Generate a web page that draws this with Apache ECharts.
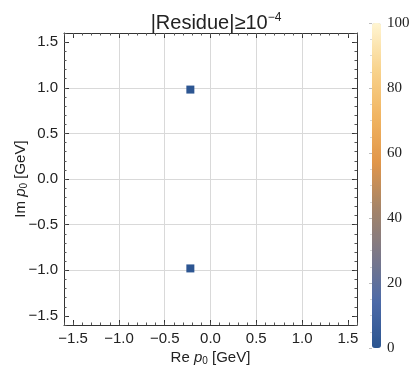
<!DOCTYPE html>
<html>
<head>
<meta charset="utf-8">
<script src="https://cdn.jsdelivr.net/npm/echarts@6/dist/echarts.min.js"></script>
<style>
  html, body { margin: 0; padding: 0; background: #fff; }
  #main { width: 413px; height: 371px; }
</style>
</head>
<body>
<div id="main"></div>
<script>
// residue points (Re p0, Im p0, |residue|)
var rePoints = [-0.22, -0.22];
var imPoints = [0.98, -0.98];
var residues = [1, 1];

var axisRange = [-1.6, 1.6];
var barTicks = [0, 20, 40, 60, 80, 100];
var barColors = ['#2b5590', '#4d6aa8', '#7b7888', '#a48468', '#e1964a', '#f1b562', '#f8d38d', '#fff5d2'];

var points = rePoints.map(function (x, i) { return [x, imPoints[i], residues[i]]; });

var myChart = echarts.init(document.getElementById('main'));
var font = 'Liberation Sans';
var gridLine = '#d9d9d9';
// gridlines only at -1..1 (not at ±1.5)
var splitColors = ['rgba(0,0,0,0)', gridLine, gridLine, gridLine, gridLine, gridLine, 'rgba(0,0,0,0)'];

function majorAxis(pos, withLabels, nameText) {
    return {
        type: 'value',
        position: pos,
        min: axisRange[0],
        max: axisRange[1],
        gridIndex: 0,
        name: nameText || '',
        nameLocation: 'middle',
        nameGap: (pos === 'left') ? 35 : 25,
        nameMoveOverlap: false,
        nameTextStyle: {
            fontFamily: font, fontSize: 15, color: '#222',
            rich: {
                i: { fontFamily: font, fontSize: 15, fontStyle: 'italic', color: '#222' },
                s: { fontFamily: font, fontSize: 10, color: '#222', verticalAlign: 'bottom', padding: [6, 0, 0, 0] }
            }
        },
        axisLine: { show: true, onZero: false, lineStyle: { color: '#333', width: 1 } },
        axisTick: { show: true, inside: true, length: 5, lineStyle: { color: '#333' } },
        axisLabel: {
            show: withLabels, fontFamily: font, fontSize: 15, color: '#222',
            margin: 6, showMinLabel: false, showMaxLabel: false,
            formatter: function (v) { return v.toFixed(1).replace('-', '\u2212'); }
        },
        splitLine: {
            show: withLabels, showMinLine: false, showMaxLine: false,
            lineStyle: { color: splitColors, width: 1 }
        }
    };
}

function minorAxis(pos) {
    return {
        type: 'value',
        position: pos,
        min: axisRange[0],
        max: axisRange[1],
        interval: 0.1,
        gridIndex: 0,
        axisLine: { show: false, onZero: false },
        axisTick: { show: true, inside: true, length: 2.5, lineStyle: { color: '#555' } },
        axisLabel: { show: false },
        splitLine: { show: false }
    };
}

option = {
    backgroundColor: '#fff',
    animation: false,
    title: {
        text: '|Residue|≥10{sup|\u22124}',
        left: 211,
        top: 7,
        textAlign: 'center',
        textStyle: {
            fontFamily: font, fontSize: 20, fontWeight: 'normal', color: '#222',
            rich: {
                sup: { fontFamily: font, fontSize: 12, color: '#222', verticalAlign: 'top', padding: [0, 0, 10, 0] }
            }
        }
    },
    grid: [
        { left: 64, top: 33, width: 293, height: 292 },
        { left: 372, top: 23, width: 9, height: 325 }
    ],
    xAxis: [
        majorAxis('bottom', true, 'Re {i|p}{s|0} [GeV]'),
        minorAxis('bottom'),
        majorAxis('top', false),
        minorAxis('top'),
        { type: 'value', gridIndex: 1, show: false, min: 0, max: 1 }
    ],
    yAxis: [
        majorAxis('left', true, 'Im {i|p}{s|0} [GeV]'),
        minorAxis('left'),
        majorAxis('right', false),
        minorAxis('right'),
        {
            type: 'value', gridIndex: 1, position: 'right', min: barTicks[0], max: barTicks[barTicks.length - 1],
            interval: 20,
            axisLine: { show: false },
            axisTick: { show: true, inside: true, length: 3, lineStyle: { color: 'rgba(0,0,0,0.25)' } },
            minorTick: { show: true, splitNumber: 4, length: 2, lineStyle: { color: 'rgba(0,0,0,0.15)' } },
            splitLine: { show: false },
            axisLabel: { fontFamily: 'Liberation Serif', fontSize: 15, color: '#222', margin: 6 }
        }
    ],
    visualMap: {
        type: 'continuous',
        min: 0,
        max: 100,
        seriesIndex: 0,
        dimension: 2,
        calculable: false,
        left: 372,
        top: 23,
        padding: 0,
        itemWidth: 9,
        itemHeight: 325,
        inRange: { color: barColors },
        borderColor: '#ccc'
    },
    series: [
        {
            name: 'residue',
            type: 'scatter',
            xAxisIndex: 0,
            yAxisIndex: 0,
            symbol: 'rect',
            symbolSize: 8,
            itemStyle: { opacity: 1 },
            data: points
        }
    ]
};
myChart.setOption(option);
</script>
</body>
</html>
